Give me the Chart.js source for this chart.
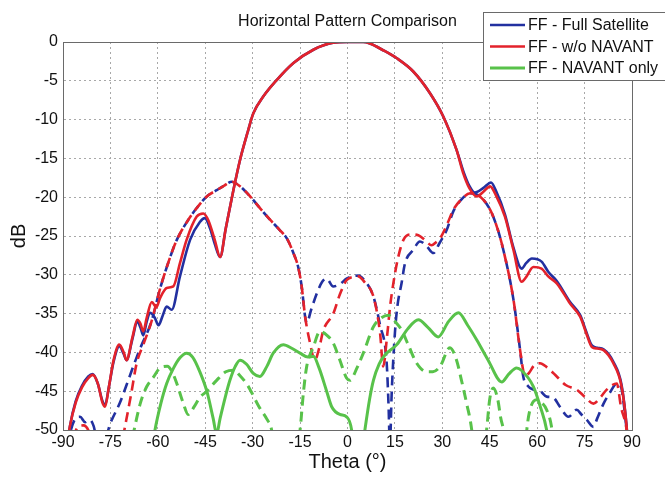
<!DOCTYPE html>
<html>
<head>
<meta charset="utf-8">
<style>
  html, body { margin: 0; padding: 0; background: #fff; }
  #wrap { width: 665px; height: 477px; }
</style>
<script src="https://cdn.jsdelivr.net/npm/chart.js@4.4.1/dist/chart.umd.min.js"></script>
</head>
<body>
<div id="wrap"><canvas id="chart" width="665" height="477"></canvas></div>
<script>
const FONT = "'Liberation Sans', Arial, sans-serif"

// theta (deg), dB; values below -50 run off the axis
const fullCo = [
  [-89,-53],[-87.8,-49.5],[-86,-46.3],[-84,-44.3],[-82,-43.1],[-80.6,-42.8],[-79,-44],[-77.5,-46.3],
  [-76.7,-46.8],[-75.5,-44.5],[-74,-41.2],[-72.2,-39.2],[-70.8,-40.2],[-69.9,-41],[-68,-38.2],[-66.5,-36],
  [-65.5,-36.8],[-64.6,-37.8],[-63.5,-36],[-62.5,-34.9],[-61,-35.5],[-59.8,-36.5],[-58.5,-35.3],[-57.2,-34.1],
  [-55.6,-34.5],[-53,-30.2],[-49.8,-25.5],[-46.7,-23.2],[-45.1,-22.7],[-43.5,-24],[-42,-26],[-40.3,-27.7],
  [-38.5,-24],[-36.1,-19.1],[-34,-15.2],[-31.5,-11.5],[-29.8,-9.2],[-26.6,-7],[-22.4,-4.9],[-17.1,-2.7],
  [-10.8,-1],[-4.6,-0.1],[0,0],[5,0],[7.1,-0.2],[11,-1],[15.6,-2.1],[20.8,-3.8],[26.1,-6.6],[30.3,-9.6],
  [34.5,-13.9],[36.6,-16.6],[38.5,-18.5],[40.3,-19.4],[43,-18.8],[45.4,-18.1],[47,-19.2],[49.8,-22.2],
  [52.5,-26.5],[55.1,-29.2],[56.5,-28.5],[58.3,-27.9],[61.4,-28.3],[63.5,-29.6],[66.2,-30.8],[70.4,-33.5],
  [73.6,-35.2],[75.5,-37.3],[77.3,-39.1],[79,-39.4],[81,-39.6],[84.1,-41.2],[86.7,-44.2],[88.3,-49.6],[89,-54]
]
const fullX = [
  [-89,-53],[-87.5,-50],[-86,-48.5],[-84.6,-48.3],[-83,-49],[-81.5,-48.7],[-80.3,-49.5],[-79.4,-51],
  [-77,-51.5],[-75.1,-49.2],[-74.1,-48.3],[-72,-46.5],[-69.9,-44.2],[-67.5,-41.5],[-65.6,-39.5],[-62,-36],
  [-59.3,-31.8],[-57,-28.8],[-54,-25.5],[-50.5,-23],[-47.7,-21.4],[-44.5,-19.9],[-41.4,-19.1],[-39,-18.5],
  [-36.6,-18],[-34,-18.6],[-30.8,-19.9],[-27.5,-21.5],[-24.5,-22.9],[-21.5,-24.2],[-19.2,-25.3],[-17.3,-27],
  [-15.6,-29],[-14.5,-31.5],[-13.4,-35.4],[-12.9,-36.2],[-11.5,-34.5],[-9.7,-32.4],[-8,-30.9],[-6.6,-30.5],
  [-4.5,-31.5],[-2.4,-31.2],[-0.3,-30.5],[1.5,-30.2],[3.4,-30.1],[5.5,-30.8],[8.2,-32.8],[10.3,-36.5],
  [12.4,-41.4],[13,-47],[13.4,-52],[14,-45],[15,-37.5],[15.8,-34],[17.1,-31.1],[18.2,-28.5],[20.8,-26.8],
  [22.9,-25.7],[25,-26.3],[27.2,-27.2],[29,-26],[31.4,-24.2],[33.5,-21.8],[36,-20.3],[38.8,-19.5],
  [41.9,-19.9],[45.1,-21.6],[47,-23.5],[49.3,-26.8],[52.5,-33.2],[54.6,-39.7],[55.6,-43.1],[57,-44.3],
  [58.8,-44.8],[61,-45],[63,-45.7],[65,-45.8],[67.2,-47],[69.9,-48.3],[72.5,-47.4],[74,-48],[75.7,-48.7],
  [77.8,-49.6],[79,-48.5],[81,-46.6],[83,-45.2],[85.2,-44],[86.5,-44.4],[87.5,-47],[88.3,-50],[89,-53]
]
const woCo = [
  [-89,-53],[-87.8,-49.5],[-86,-46.5],[-84,-44.5],[-82,-43.3],[-80.6,-42.9],[-79,-44],[-77.5,-46.5],
  [-76.7,-47],[-75.5,-44.5],[-74,-41],[-72.2,-39],[-70.8,-40],[-69.9,-41],[-68,-38],[-66.5,-35.8],
  [-65.5,-36.3],[-64.6,-37.3],[-63.5,-35.5],[-61.9,-33.5],[-60.5,-34.2],[-59.3,-33],[-57.2,-31.7],[-55.1,-31.5],
  [-53,-28.5],[-50.9,-25.5],[-47.7,-22.5],[-45.6,-22.1],[-44,-23],[-42,-25.5],[-40.3,-27.7],[-38.5,-24],
  [-36.1,-19.1],[-34,-15.2],[-31.5,-11.5],[-29.8,-9.2],[-26.6,-7],[-22.4,-4.9],[-17.1,-2.7],[-10.8,-1],
  [-4.6,-0.1],[0,0],[5,0],[7.1,-0.2],[11,-1],[15.6,-2.1],[20.8,-3.8],[26.1,-6.6],[30.3,-9.6],[34.5,-13.9],
  [36.6,-16.9],[38.5,-18.8],[40.9,-19.9],[43,-19.3],[45.1,-18.6],[47,-19.8],[49.8,-22.5],[52.5,-26.8],
  [55.1,-30.9],[56.5,-30.3],[58.8,-29],[61.4,-29.2],[63.5,-30.2],[66.2,-31.1],[70.4,-33.7],[73.6,-35.4],
  [75.5,-37.5],[77.3,-39.3],[79,-39.5],[81,-39.7],[84.1,-41.4],[86.7,-44.4],[88.3,-49.6],[89,-54]
]
const woX = [
  [-87,-51],[-85,-49.5],[-83.5,-49.4],[-81.5,-50.5],[-80,-53],[-76,null],
  [-72,-53],[-70.4,-49.6],[-68.5,-45.5],[-66.7,-41.4],[-64.6,-39],[-62,-36],[-59.3,-31.8],[-57,-28.8],
  [-54,-25.5],[-50.5,-23],[-47.7,-21.4],[-44.5,-19.9],[-41.4,-19.1],[-39,-18.5],[-36.6,-18],[-34,-18.6],
  [-30.8,-19.9],[-27.5,-21.5],[-24.5,-22.9],[-21.5,-24.2],[-19.2,-25.3],[-17.3,-27],[-15.6,-29],[-14.5,-31.5],
  [-13.4,-35.4],[-12,-38.5],[-10.3,-41],[-9,-39.5],[-7.6,-37.1],[-4.5,-35],[-2.4,-32.5],[-0.3,-30.7],
  [1.5,-30.3],[3.4,-30.2],[5.5,-31],[8.2,-32.8],[10.3,-37.5],[11.3,-41.8],[12.5,-38],[13.5,-34],[14.5,-31.1],
  [16,-27.8],[17.7,-25.5],[20,-24.8],[22.4,-24.9],[24.5,-25.5],[26.6,-26.2],[28,-25.8],[29.3,-25.3],
  [31.5,-23.5],[33.5,-21.6],[36,-20.3],[38.8,-19.5],[41.9,-19.9],[45.1,-21.6],[47,-23.5],[49.3,-26.8],
  [52.5,-33.2],[54.6,-39.7],[56.2,-43.1],[57.5,-42.6],[59,-41.7],[60.9,-41.4],[63,-41.9],[66.2,-43.1],
  [69,-44.2],[72.5,-44.8],[75,-45.7],[77.8,-46.6],[80,-45.8],[82,-44.8],[85.2,-44],[86.5,-47],[88.3,-50],[89,-53]
]
const navCo = [
  [-62,-53],[-60.9,-50],[-59,-46.5],[-57.2,-44],[-55,-42],[-53,-40.7],[-50.9,-40.1],[-49,-40.6],[-46.7,-42.5],
  [-44.5,-45],[-42.5,-48.5],[-41.4,-50.5],[-40.3,-48.5],[-38.5,-45.5],[-37.2,-43.6],[-35.5,-41.8],[-34,-41],
  [-32,-41.5],[-29.8,-42.7],[-27.7,-43.1],[-25.5,-41.8],[-23.5,-40.1],[-20.3,-39],[-17.5,-39.5],[-15,-40.1],
  [-12.5,-40.6],[-10.8,-40.5],[-9,-42],[-6.6,-45],[-5,-47],[-2.4,-48],[-0.3,-48.3],[1.3,-50],[2,-53],
  [4.5,-53],[5.5,-50],[7,-46],[8.2,-43.6],[10,-41.5],[11.9,-40.3],[15.6,-39],[19,-37],[22.4,-35.8],
  [25.5,-36.8],[28.7,-38],[32,-36],[35.1,-34.9],[38,-36.5],[40.9,-38.4],[44.5,-41],[48.8,-43.8],[51,-42.8],
  [53.5,-42],[55,-42.3],[58.8,-44.4],[61,-47],[63,-50],[64,-53]
]
const navX = [
  [-69,-53],[-67.5,-50],[-65.5,-46.5],[-63.5,-44.4],[-61.4,-43.2],[-59.3,-42],[-57,-41.8],[-55.5,-42.5],
  [-54,-44],[-52,-46.5],[-50.4,-48],[-48.5,-47],[-46.7,-45.8],[-44.5,-45],[-41.4,-43.6],[-38.5,-42.5],
  [-36,-42.3],[-34,-43],[-32,-44],[-30.8,-44.8],[-28,-47],[-25.5,-48.6],[-24,-50],[-23,-53],[-19,null],
  [-16,-53],[-15,-50],[-13.9,-45],[-12.9,-41.8],[-10.8,-39.3],[-8.7,-37.3],[-6.5,-37.8],[-4.5,-38.8],
  [-2.4,-41],[-0.3,-43.3],[0.8,-43.6],[3,-42],[5,-40.1],[8.2,-36.7],[10.5,-35.6],[12.9,-35.2],[15,-36],
  [17.1,-37.1],[19.5,-39.3],[21.9,-41.4],[25,-42.5],[27,-42.5],[29.3,-41.8],[32.4,-39.4],[34.5,-41],
  [36,-43.5],[37.7,-46.6],[39.3,-50],[40,-53],[41.5,null],
  [43,-53],[44,-50],[45,-46],[46.1,-44.6],[47.5,-46],[48.5,-48.5],[49.3,-50],[50,-53],[53,null],
  [56,-53],[57,-49],[58,-47],[59.8,-46.1],[61.5,-46.5],[63,-47.4],[64.5,-49.5],[65.5,-53]
]

const xTicks = [-90, 90, 15]
const yTicks = [-50, 0, 5]
const legendLabels = ['FF - Full Satellite', 'FF - w/o NAVANT', 'FF - NAVANT only']

const BLUE = '#2230a0'
const RED = '#e3222b'
const GREEN = '#58c24a'

const pts = arr => arr.map(([x, y]) => ({ x, y }))

const line = (data, color, dashed, width = 2.6, dashOffset = 0) => ({
  data: pts(data),
  borderColor: color,
  borderWidth: width,
  borderDash: dashed ? [10, 6] : [],
  borderDashOffset: dashOffset,
  pointRadius: 0,
  cubicInterpolationMode: 'monotone',
  spanGaps: false,
  fill: false,
})

// box round the axes + legend panel
const frame = {
  id: 'frame',
  afterDatasetsDraw(chart) {
    const { ctx, chartArea: a } = chart
    ctx.save()
    ctx.strokeStyle = '#6a6a6a'
    ctx.lineWidth = 1
    ctx.strokeRect(a.left + 0.5, a.top + 0.5, a.right - a.left, a.bottom - a.top)

    ctx.fillStyle = '#fff'
    ctx.fillRect(483.5, 12.5, 200, 68)
    ctx.strokeRect(483.5, 12.5, 200, 68)
    const colors = [BLUE, RED, GREEN]
    ctx.font = `16px ${FONT}`
    ctx.textBaseline = 'middle'
    legendLabels.forEach((t, i) => {
      const y = 25 + i * 21.5
      ctx.strokeStyle = colors[i]
      ctx.lineWidth = i === 2 ? 3 : 2.6
      ctx.beginPath()
      ctx.moveTo(490, y)
      ctx.lineTo(525, y)
      ctx.stroke()
      ctx.fillStyle = '#111'
      ctx.fillText(t, 528, y + 1)
    })
    ctx.restore()
  }
}

new Chart(document.getElementById('chart'), {
  type: 'line',
  data: {
    datasets: [
      line(navCo, GREEN, false, 3),
      line(navX, GREEN, true, 3),
      line(woCo, RED, false),
      line(woX, RED, true),
      line(fullCo, BLUE, false),
      line(fullX, BLUE, true, 2.6, 8),
    ],
  },
  options: {
    responsive: false,
    animation: false,
    devicePixelRatio: 1,
    layout: { padding: { top: 0, right: 33, bottom: 0, left: 0 } },
    plugins: {
      legend: { display: false },
      tooltip: { enabled: false },
      title: {
        display: true,
        text: 'Horizontal Pattern Comparison',
        fullSize: false,
        color: '#111',
        font: { family: FONT, size: 16, weight: 'normal' },
        padding: { top: 12, bottom: 10.8 },
      },
    },
    scales: {
      x: {
        type: 'linear',
        min: xTicks[0],
        max: xTicks[1],
        afterFit: s => { s.height = 47 },
        ticks: { stepSize: xTicks[2], color: '#111', padding: 3, font: { family: FONT, size: 16 } },
        grid: { color: '#a8a8a8', drawTicks: false },
        border: { color: '#6a6a6a', dash: [2, 3] },
        title: { display: true, text: 'Theta (°)', color: '#111', padding: { top: 0, bottom: 3 }, font: { family: FONT, size: 20 } },
      },
      y: {
        min: yTicks[0],
        max: yTicks[1],
        afterFit: s => { s.width = 63 },
        ticks: { stepSize: yTicks[2], color: '#111', padding: 5, font: { family: FONT, size: 16 } },
        grid: { color: '#a8a8a8', drawTicks: false },
        border: { color: '#6a6a6a', dash: [2, 3] },
        title: { display: true, text: 'dB', color: '#111', padding: { top: 7, bottom: 0 }, font: { family: FONT, size: 20 } },
      },
    },
  },
  plugins: [frame],
})
</script>
</body>
</html>
